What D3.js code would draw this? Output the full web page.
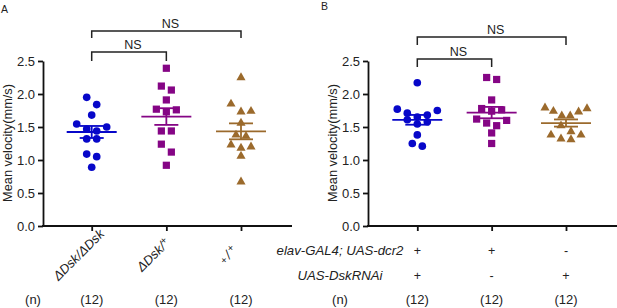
<!DOCTYPE html>
<html>
<head>
<meta charset="utf-8">
<script src="https://cdn.jsdelivr.net/npm/d3@7"></script>
<style>
  body { margin: 0; background: #fff; }
  svg { display: block; font-family: "Liberation Sans", Arial, sans-serif; }
</style>
</head>
<body>
<svg id="chart" width="617" height="308"></svg>
<script>
// ---- data ----
const yTicks = [0, 0.5, 1.0, 1.5, 2.0, 2.5];

// panel A
const catsA = ['ΔDsk/ΔDsk', 'ΔDsk/+', '+/+'];
const velA_dskDsk = [1.95, 1.84, 1.68, 1.545, 1.50, 1.47, 1.44, 1.32, 1.32, 1.09, 1.05, 0.89];
const velA_dskPlus = [2.39, 2.12, 2.06, 1.91, 1.77, 1.76, 1.73, 1.44, 1.44, 1.24, 1.12, 0.92];
const velA_plusPlus = [2.25, 1.85, 1.74, 1.73, 1.56, 1.38, 1.36, 1.23, 1.20, 1.18, 1.06, 0.67];
const nA = [12, 12, 12];

// panel B
const rowLabelsB = ['elav-GAL4; UAS-dcr2', 'UAS-DskRNAi'];
const genotypeB = [['+', '+', '-'], ['+', '-', '+']];
const velB_both = [2.17, 1.77, 1.75, 1.71, 1.68, 1.65, 1.61, 1.58, 1.545, 1.38, 1.25, 1.21];
const velB_gal4 = [2.25, 2.22, 1.91, 1.78, 1.76, 1.74, 1.62, 1.60, 1.56, 1.52, 1.41, 1.25];
const velB_rnai = [1.79, 1.78, 1.74, 1.73, 1.67, 1.67, 1.52, 1.43, 1.38, 1.38, 1.32, 1.31];
const nB = [12, 12, 12];

const colors = ['#0707c9', '#850585', '#9b6a2c'];
const shapes = [d3.symbolCircle, d3.symbolSquare, d3.symbolTriangle];
const shapeSizes = [46, 52, 36];

const svg = d3.select('#chart');

// Prism-like column scatter: values close in y share a row, spread sideways
function swarm(values, y) {
    const sorted = values.slice().sort((a, b) => b - a);
    const rows = [];
    sorted.forEach(v => {
        const last = rows[rows.length - 1];
        if (last && Math.abs(y(last[0]) - y(v)) < 8.2) last.push(v);
        else rows.push([v]);
    });
    const out = [];
    rows.forEach(row => {
        const n = row.length;
        const step = n > 1 ? Math.min(10, 42 / (n - 1)) : 0;
        // outer slots get the larger values
        const slots = d3.range(n).map(i => (i - (n - 1) / 2) * step)
            .sort((a, b) => Math.abs(b) - Math.abs(a) || a - b);
        row.forEach((v, i) => out.push({ v: v, dx: slots[i] }));
    });
    return out;
}

function drawPanel(cfg) {
    const g = svg.append('g');

    const y = d3.scaleLinear().domain([0, 2.5]).range([226, 61]);
    const x = d3.scalePoint().domain(d3.range(cfg.groups.length)).range(cfg.catRange);

    // y axis
    g.append('g')
        .attr('transform', `translate(${cfg.left},0)`)
        .call(d3.axisLeft(y).tickValues(yTicks).tickFormat(d3.format('.1f'))
            .tickSize(5).tickSizeOuter(0).tickPadding(3))
        .call(a => a.selectAll('path, line').attr('stroke', '#111').attr('stroke-width', 1.8))
        .call(a => a.selectAll('text').attr('font-size', 13).attr('fill', '#222')
            .attr('font-family', '"Liberation Sans", Arial, sans-serif'));

    // x axis
    g.append('line')
        .attr('x1', cfg.left - 1).attr('x2', cfg.right)
        .attr('y1', y(0)).attr('y2', y(0))
        .attr('stroke', '#111').attr('stroke-width', 1.8);
    g.append('g')
        .attr('transform', `translate(0,${y(0)})`)
        .call(d3.axisBottom(x).tickSize(5).tickSizeOuter(0).tickFormat(''))
        .call(a => a.select('.domain').remove())
        .call(a => a.selectAll('line').attr('stroke', '#111').attr('stroke-width', 1.8));

    // y title
    g.append('text')
        .attr('transform', `translate(${cfg.titleX},143) rotate(-90)`)
        .attr('text-anchor', 'middle')
        .attr('font-size', 12.8).attr('fill', '#222')
        .text('Mean velocity(mm/s)');

    // panel letter
    g.append('text')
        .attr('x', cfg.letterX).attr('y', cfg.letterY)
        .attr('font-size', 10.5).attr('fill', '#222')
        .text(cfg.letter);

    // points, mean and SEM
    cfg.groups.forEach((vals, i) => {
        const cx = x(i);
        const pts = swarm(vals, y);
        g.append('g').selectAll('path')
            .data(pts)
            .join('path')
            .attr('transform', d => `translate(${cx + d.dx},${y(d.v)})`)
            .attr('d', d3.symbol().type(shapes[i]).size(shapeSizes[i]))
            .attr('fill', colors[i]);

        const m = d3.mean(vals);
        const sem = d3.deviation(vals) / Math.sqrt(vals.length);
        const eg = g.append('g').attr('stroke', colors[i]).attr('stroke-width', 1.8);
        eg.append('line').attr('x1', cx - 25).attr('x2', cx + 25).attr('y1', y(m)).attr('y2', y(m));
        eg.append('line').attr('x1', cx).attr('x2', cx).attr('y1', y(m - sem)).attr('y2', y(m + sem));
        [m - sem, m + sem].forEach(v => {
            eg.append('line').attr('x1', cx - 12).attr('x2', cx + 12).attr('y1', y(v)).attr('y2', y(v));
        });
    });

    // significance brackets
    cfg.brackets.forEach(b => {
        const x1 = x(b.from), x2 = x(b.to);
        g.append('path')
            .attr('d', `M${x1},${b.top + b.leg}V${b.top}H${x2}V${b.top + b.leg}`)
            .attr('fill', 'none').attr('stroke', '#222').attr('stroke-width', 1.5);
        g.append('text')
            .attr('x', (x1 + x2) / 2 + 4).attr('y', b.top - 3)
            .attr('text-anchor', 'middle')
            .attr('font-size', 12.5).attr('fill', '#222')
            .text(b.label);
    });

    // (n) row
    g.append('text').attr('x', cfg.nX).attr('y', 304)
        .attr('text-anchor', 'middle').attr('font-size', 13).attr('fill', '#222').text('(n)');
    cfg.counts.forEach((c, i) => {
        g.append('text').attr('x', x(i)).attr('y', 304)
            .attr('text-anchor', 'middle').attr('font-size', 13).attr('fill', '#222')
            .text(`(${c})`);
    });

    return { g: g, x: x, y: y };
}

// ---- panel A ----
const pA = drawPanel({
    letter: 'A', letterX: 1, letterY: 13,
    left: 43, right: 292, catRange: [91.7, 241],
    titleX: 12, nX: 33,
    groups: [velA_dskDsk, velA_dskPlus, velA_plusPlus],
    counts: nA,
    brackets: [
        { from: 0, to: 2, top: 31, leg: 7, label: 'NS' },
        { from: 0, to: 1, top: 52, leg: 9, label: 'NS' }
    ]
});

// rotated genotype labels, "+" parts drawn small
catsA.forEach((label, i) => {
    const t = pA.g.append('text')
        .attr('transform', `translate(${pA.x(i) - 10},258) rotate(-45)`)
        .attr('text-anchor', 'middle')
        .attr('font-size', 13).attr('font-style', 'italic').attr('fill', '#222');
    label.split('/').forEach((part, k) => {
        if (k > 0) t.append('tspan').attr('dx', part === '+' && label[0] === '+' ? 2 : 0).text('/');
        if (part === '+') {
            t.append('tspan')
                .attr('font-size', 10).attr('font-style', 'normal')
                .attr('dx', k > 0 && label[0] === '+' ? 2 : 0)
                .attr('baseline-shift', k > 0 ? '45%' : '5%')
                .text('+');
        } else {
            t.append('tspan').text(part);
        }
    });
});

// ---- panel B ----
const pB = drawPanel({
    letter: 'B', letterX: 321, letterY: 10,
    left: 368, right: 617, catRange: [417.3, 566],
    titleX: 337, nX: 340,
    groups: [velB_both, velB_gal4, velB_rnai],
    counts: nB,
    brackets: [
        { from: 0, to: 2, top: 37, leg: 8, label: 'NS' },
        { from: 0, to: 1, top: 59, leg: 8, label: 'NS' }
    ]
});

rowLabelsB.forEach((label, r) => {
    const yy = 255 + r * 25;
    pB.g.append('text')
        .attr('x', 340).attr('y', yy)
        .attr('text-anchor', 'middle')
        .attr('font-size', 13.2).attr('font-style', 'italic').attr('fill', '#222')
        .text(label);
    genotypeB[r].forEach((s, i) => {
        pB.g.append('text')
            .attr('x', pB.x(i)).attr('y', yy)
            .attr('text-anchor', 'middle')
            .attr('font-size', 12.5).attr('fill', '#222')
            .text(s);
    });
});
</script>
</body>
</html>
